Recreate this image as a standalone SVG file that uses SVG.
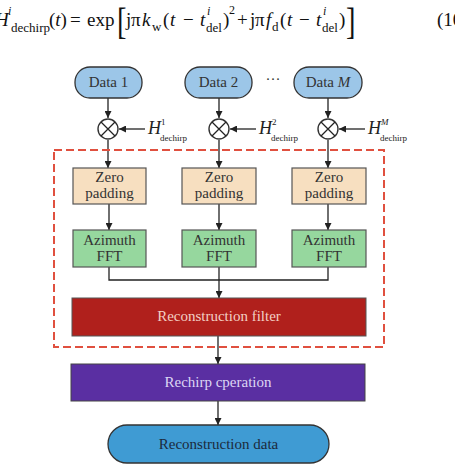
<svg xmlns="http://www.w3.org/2000/svg" width="455" height="467" viewBox="0 0 455 467">
<defs>
<marker id="ah" viewBox="0 0 10 10" refX="10" refY="5" markerWidth="7" markerHeight="7" markerUnits="userSpaceOnUse" orient="auto">
<path d="M0,0 L10,5 L0,10 z" fill="#222"/>
</marker>
<style>
.eq{font-family:"Liberation Serif",serif;font-size:19px;fill:#111}
.sb{font-size:13px}
.sp{font-size:12px}
.it{font-style:italic}
.lbl{font-family:"Liberation Serif",serif;font-size:15px;fill:#333;text-anchor:middle}
.box{stroke:#555;stroke-width:1.2}
.ln{stroke:#222;stroke-width:1.3;fill:none}
.mul{fill:#fff;stroke:#333;stroke-width:1.4}
.hl{font-family:"Liberation Serif",serif;fill:#222}
</style>
</defs>
<rect width="455" height="467" fill="#fff"/>

<g id="equation" class="eq">
<text x="-5" y="26" class="it">H</text>
<text x="8" y="15" class="sp it">i</text>
<text x="11" y="32" class="sb">dechirp</text>
<text x="49" y="26">(<tspan class="it">t</tspan>)</text>
<text x="70" y="26">=</text>
<text x="87" y="26">exp</text>
<text x="0" y="0" transform="translate(117,34) scale(0.75,1)" style="font-size:38px">[</text>
<text x="126" y="26">j</text>
<text x="131" y="26">π</text>
<text x="142" y="26" class="it">k</text>
<text x="152" y="31" class="sb">w</text>
<text x="163" y="26">(</text>
<text x="170" y="26" class="it">t</text>
<text x="183" y="26">−</text>
<text x="200" y="26" class="it">t</text>
<text x="207" y="15" class="sp it">i</text>
<text x="206" y="32" class="sb">del</text>
<text x="223" y="26">)</text>
<text x="229" y="14" class="sp">2</text>
<text x="237" y="26">+</text>
<text x="250" y="26">j</text>
<text x="255" y="26">π</text>
<text x="266" y="26" class="it">f</text>
<text x="272" y="31" class="sb">d</text>
<text x="280" y="26">(</text>
<text x="287" y="26" class="it">t</text>
<text x="299" y="26">−</text>
<text x="316" y="26" class="it">t</text>
<text x="323" y="15" class="sp it">i</text>
<text x="322" y="32" class="sb">del</text>
<text x="339" y="26">)</text>
<text x="0" y="0" transform="translate(346,34) scale(0.75,1)" style="font-size:38px">]</text>
<text x="437" y="26">(10</text>
</g>

<g id="connectors">
<line class="ln" x1="108" y1="98" x2="108" y2="118" marker-end="url(#ah)"/>
<line class="ln" x1="219" y1="98" x2="219" y2="118" marker-end="url(#ah)"/>
<line class="ln" x1="328" y1="98" x2="328" y2="118" marker-end="url(#ah)"/>
<line class="ln" x1="145" y1="129" x2="119" y2="129" marker-end="url(#ah)"/>
<line class="ln" x1="256" y1="129" x2="230" y2="129" marker-end="url(#ah)"/>
<line class="ln" x1="365" y1="129" x2="339" y2="129" marker-end="url(#ah)"/>
<line class="ln" x1="108" y1="140" x2="108" y2="168" marker-end="url(#ah)"/>
<line class="ln" x1="219" y1="140" x2="219" y2="168" marker-end="url(#ah)"/>
<line class="ln" x1="328" y1="140" x2="328" y2="168" marker-end="url(#ah)"/>
<line class="ln" x1="109" y1="204" x2="109" y2="230" marker-end="url(#ah)"/>
<line class="ln" x1="219" y1="204" x2="219" y2="230" marker-end="url(#ah)"/>
<line class="ln" x1="328" y1="204" x2="328" y2="230" marker-end="url(#ah)"/>
<polyline class="ln" points="109,267 109,280 328,280 328,267"/>
<line class="ln" x1="219" y1="267" x2="219" y2="298" marker-end="url(#ah)"/>
<line class="ln" x1="218" y1="336" x2="218" y2="364" marker-end="url(#ah)"/>
<line class="ln" x1="218" y1="401" x2="218" y2="425" marker-end="url(#ah)"/>
</g>

<g id="group-box">
<rect x="54" y="150" width="330" height="197" fill="none" stroke="#e0503f" stroke-width="2" stroke-dasharray="8,4"/>
</g>

<g id="data1">
<rect x="75" y="67" width="67" height="31" rx="15" fill="#9cc6e8" stroke="#333" stroke-width="1.3"/>
<text class="lbl" x="108.5" y="87">Data 1</text>
</g>
<g id="data2">
<rect x="185" y="67" width="67" height="31" rx="15" fill="#9cc6e8" stroke="#333" stroke-width="1.3"/>
<text class="lbl" x="218.5" y="87">Data 2</text>
</g>
<g id="ellipsis">
<text class="lbl" x="273" y="84">···</text>
</g>
<g id="dataM">
<rect x="294" y="67" width="68" height="31" rx="15" fill="#9cc6e8" stroke="#333" stroke-width="1.3"/>
<text class="lbl" x="328" y="87">Data <tspan class="it">M</tspan></text>
</g>

<g id="mul1">
<circle class="mul" cx="108" cy="129" r="10"/>
<path class="ln" d="M101,122 L115,136 M115,122 L101,136"/>
<text class="hl it" x="148" y="134" font-size="18">H</text>
<text class="hl" x="161" y="125" font-size="9">1</text>
<text class="hl" x="160" y="141" font-size="9">dechirp</text>
</g>
<g id="mul2">
<circle class="mul" cx="219" cy="129" r="10"/>
<path class="ln" d="M212,122 L226,136 M226,122 L212,136"/>
<text class="hl it" x="259" y="134" font-size="18">H</text>
<text class="hl" x="272" y="125" font-size="9">2</text>
<text class="hl" x="271" y="141" font-size="9">dechirp</text>
</g>
<g id="mulM">
<circle class="mul" cx="328" cy="129" r="10"/>
<path class="ln" d="M321,122 L335,136 M335,122 L321,136"/>
<text class="hl it" x="368" y="134" font-size="18">H</text>
<text class="hl it" x="381" y="125" font-size="9">M</text>
<text class="hl" x="380" y="141" font-size="9">dechirp</text>
</g>

<g id="zp1">
<rect class="box" x="73" y="168" width="73" height="36" fill="#f7dfc0"/>
<text class="lbl" x="109.5" y="182">Zero</text>
<text class="lbl" x="109.5" y="198">padding</text>
</g>
<g id="zp2">
<rect class="box" x="182" y="168" width="74" height="36" fill="#f7dfc0"/>
<text class="lbl" x="219" y="182">Zero</text>
<text class="lbl" x="219" y="198">padding</text>
</g>
<g id="zp3">
<rect class="box" x="292" y="168" width="74" height="36" fill="#f7dfc0"/>
<text class="lbl" x="329" y="182">Zero</text>
<text class="lbl" x="329" y="198">padding</text>
</g>

<g id="fft1">
<rect class="box" x="73" y="230" width="73" height="37" fill="#96d79e"/>
<text class="lbl" x="109.5" y="245">Azimuth</text>
<text class="lbl" x="109.5" y="261">FFT</text>
</g>
<g id="fft2">
<rect class="box" x="182" y="230" width="74" height="37" fill="#96d79e"/>
<text class="lbl" x="219" y="245">Azimuth</text>
<text class="lbl" x="219" y="261">FFT</text>
</g>
<g id="fft3">
<rect class="box" x="292" y="230" width="74" height="37" fill="#96d79e"/>
<text class="lbl" x="329" y="245">Azimuth</text>
<text class="lbl" x="329" y="261">FFT</text>
</g>

<g id="recon-filter">
<rect x="72" y="298" width="294" height="38" fill="#b0201c" stroke="#555" stroke-width="1"/>
<text class="lbl" x="219" y="321" style="fill:#f3cfc4">Reconstruction filter</text>
</g>
<g id="rechirp">
<rect x="71" y="364" width="294" height="37" fill="#5a2fa2" stroke="#444" stroke-width="1"/>
<text class="lbl" x="218" y="387" style="fill:#ddd6f4">Rechirp cperation</text>
</g>
<g id="recon-data">
<rect x="108" y="425" width="221" height="38" rx="19" fill="#3f9bd3" stroke="#333" stroke-width="1.3"/>
<text class="lbl" x="218.5" y="449" style="fill:#1c2a3c">Reconstruction data</text>
</g>
</svg>
